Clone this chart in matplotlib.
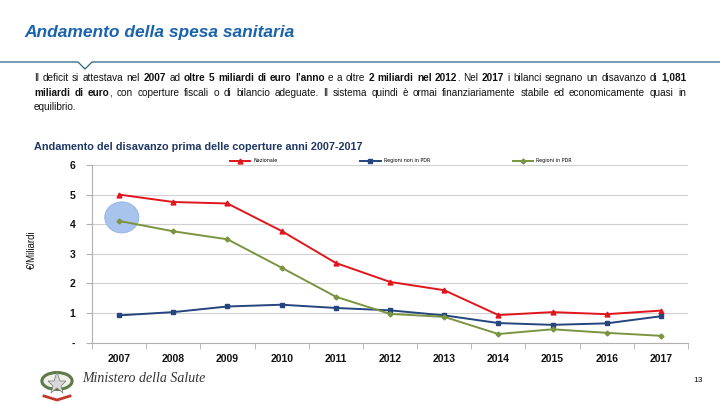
import matplotlib
matplotlib.use('Agg')
import matplotlib.pyplot as plt
from matplotlib.patches import Ellipse, Circle, Polygon
from matplotlib.lines import Line2D

# dati (miliardi di euro)
anni = [2007, 2008, 2009, 2010, 2011, 2012, 2013, 2014, 2015, 2016, 2017]
nazionale = [5.00, 4.75, 4.70, 3.77, 2.69, 2.05, 1.77, 0.93, 1.03, 0.96, 1.081]
regioni_non_pdr = [0.92, 1.03, 1.22, 1.28, 1.17, 1.09, 0.92, 0.66, 0.60, 0.65, 0.89]
regioni_pdr = [4.11, 3.76, 3.49, 2.53, 1.55, 0.97, 0.87, 0.29, 0.45, 0.33, 0.23]
y_ticks = [0, 1, 2, 3, 4, 5, 6]
y_labels = ['-', '1', '2', '3', '4', '5', '6']

titolo = 'Andamento della spesa sanitaria'
titolo_grafico = 'Andamento del disavanzo prima delle coperture anni 2007-2017'
righe = [
    "Il deficit si attestava nel **2007** ad **oltre 5 miliardi di euro l’anno** e a oltre "
    "**2 miliardi nel 2012**. Nel **2017** i bilanci segnano un disavanzo di **1,081**",
    "**miliardi di euro**, con coperture fiscali o di bilancio adeguate. Il sistema quindi è "
    "ormai finanziariamente stabile ed economicamente quasi in",
    "equilibrio.",
]

W, H = 720, 405
fig = plt.figure(figsize=(7.2, 4.05), dpi=100)
fig.patch.set_facecolor('white')


def fx(px):
    return px / W


def fy(py):
    return 1 - py / H


# intestazione
fig.text(fx(24), fy(33), titolo, fontsize=12.5, fontweight='bold', fontstyle='italic',
         family='Liberation Sans', color='#1a63ad', va='center', ha='left')
fig.add_artist(Line2D([fx(0), fx(78), fx(85), fx(92), fx(720)],
                      [fy(62), fy(62), fy(69), fy(62), fy(62)],
                      color='#2a6284', lw=0.9))


def parse(riga):
    parole = []
    bold = False
    for w in riga.split(' '):
        pezzi = []
        for i, p in enumerate(w.split('**')):
            if i > 0:
                bold = not bold
            if p:
                pezzi.append((p, bold))
        parole.append(pezzi)
    return parole


renderer = fig.canvas.get_renderer()
fs_par = 7.2


def scrivi_riga(riga, y, x0=34, x1=686, giustifica=True):
    parole = parse(riga)
    larghezze = []
    oggetti = []
    for pezzi in parole:
        wl = 0
        objs = []
        for p, b in pezzi:
            t = fig.text(0, 0, p, fontsize=fs_par, family='Liberation Sans',
                         fontweight='bold' if b else 'normal', color='#111111', va='center')
            ext = t.get_window_extent(renderer)
            objs.append((t, ext.width))
            wl += ext.width
        larghezze.append(wl)
        oggetti.append(objs)
    spazio = fs_par * 100 / 72 * 0.28
    if giustifica and len(parole) > 1:
        spazio = (x1 - x0 - sum(larghezze)) / (len(parole) - 1)
    x = x0
    for objs, wl in zip(oggetti, larghezze):
        xx = x
        for t, w in objs:
            t.set_position((fx(xx), fy(y)))
            xx += w
        x += wl + spazio


scrivi_riga(righe[0], 78)
scrivi_riga(righe[1], 93)
scrivi_riga(righe[2], 107, giustifica=False)

# grafico
ax = fig.add_axes([fx(92), fy(342.6), fx(688) - fx(92), fy(165) - fy(342.6)])
ax.set_xlim(2006.5, 2017.5)
ax.set_ylim(0, 6)

ax.add_patch(Ellipse((2007.05, 4.23), 0.63, 1.05, facecolor='#a8c3ec', edgecolor='#94b3e3',
                     lw=0.6, zorder=1))

ax.plot(anni, nazionale, color='#e0161c', lw=1.4, marker='^', ms=3.5, label='Nazionale', zorder=3)
ax.plot(anni, regioni_non_pdr, color='#25457e', lw=1.4, marker='s', ms=3, label='Regioni non in PDR', zorder=3)
ax.plot(anni, regioni_pdr, color='#7a9440', lw=1.4, marker='D', ms=2.5, label='Regioni in PDR', zorder=3)

ax.set_xticks(anni)
ax.set_xticklabels([str(a) for a in anni], fontsize=7.5, fontweight='bold', family='Liberation Sans')
ax.set_xticks([a - 0.5 for a in anni] + [2017.5], minor=True)
ax.tick_params(axis='x', which='major', length=0, pad=8, colors='#111111')
ax.tick_params(axis='x', which='minor', length=4, color='#b0b0b0')

ax.set_yticks(y_ticks)
ax.set_yticklabels(y_labels, fontsize=7.5, fontweight='bold', family='Liberation Sans')
ax.tick_params(axis='y', length=4, color='#b0b0b0', pad=8, labelcolor='#111111')
ax.grid(axis='y', color='#d0d0d0', lw=0.8)
ax.set_axisbelow(True)
for s in ['top', 'right']:
    ax.spines[s].set_visible(False)
for s in ['left', 'bottom']:
    ax.spines[s].set_color('#b0b0b0')
    ax.spines[s].set_linewidth(0.8)

ax.legend(loc='lower left', bbox_to_anchor=((233 - 92) / 596 - 0.005, 1.01), ncol=3, frameon=False,
          fontsize=3.5, handlelength=4.2, handletextpad=0.6, columnspacing=17,
          borderaxespad=0, borderpad=0)

fig.text(fx(34), fy(147), titolo_grafico, fontsize=7.8, fontweight='bold', family='Liberation Sans',
         color='#1f3864', va='center', ha='left')
fig.text(fx(32), fy(250), '€/Miliardi', fontsize=7, rotation=90, family='Liberation Sans',
         color='#111111', va='center', ha='center')

# piè di pagina: stemma stilizzato e dicitura
fig.add_artist(Circle((fx(57), fy(381)), 0.021, transform=fig.transFigure, facecolor='#eef0ea',
                      edgecolor='#5f7a4a', lw=2.2))
fig.add_artist(Polygon([(fx(57), fy(372)), (fx(60), fy(381)), (fx(66), fy(381)), (fx(61), fy(386)),
                        (fx(63), fy(393)), (fx(57), fy(388)), (fx(51), fy(393)), (fx(53), fy(386)),
                        (fx(48), fy(381)), (fx(54), fy(381))],
                       closed=True, transform=fig.transFigure, facecolor='#d8d8d8',
                       edgecolor='#777777', lw=0.5))
fig.add_artist(Line2D([fx(44), fx(57), fx(70)], [fy(396), fy(400), fy(396)], color='#c0392b', lw=2))
fig.text(fx(82), fy(378), 'Ministero della Salute', fontsize=10, fontstyle='italic',
         family='Liberation Serif', color='#333333', va='center', ha='left')
fig.text(fx(698), fy(381), '13', fontsize=6, family='Liberation Sans', color='#111111',
         va='center', ha='center')

fig.savefig('out.png', dpi=100)
